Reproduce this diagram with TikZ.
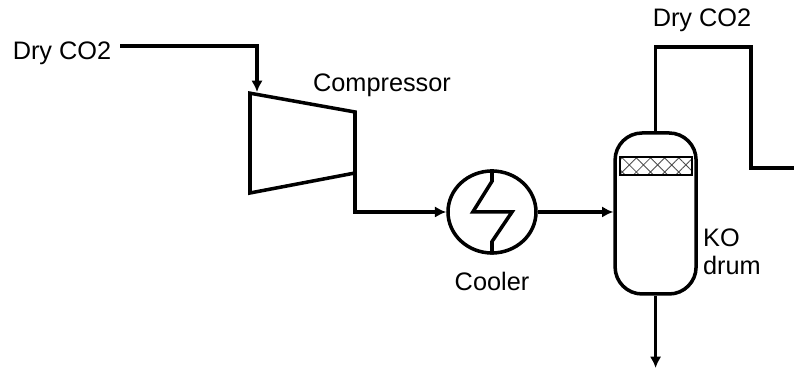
\documentclass[tikz,border=0pt]{standalone}
\usepackage{fontspec}
\setmainfont{Liberation Sans}
\usetikzlibrary{calc,shapes.geometric,arrows.meta,patterns.meta}

\begin{document}
\begin{tikzpicture}[
  unit/.style={draw, line width=2.5pt, inner sep=0pt},
  line/.style={line width=2.5pt},
  arrow/.style={-{Latex[length=8pt,width=8pt]}, line width=2.5pt},
  lab/.style={font=\fontsize{18}{20}\selectfont, align=left}
]
\useasboundingbox (0,0) rectangle (19.85,9.25);

\coordinate (compa) at (6.25,6.92);
\coordinate (compb) at (8.875,6.45);
\coordinate (compc) at (8.875,4.925);
\coordinate (compd) at (6.25,4.425);
\draw[line] (compa) -- (compb) -- (compc) -- (compd) -- cycle;

\node[unit, ellipse, minimum width=2.2cm, minimum height=2.05cm] (cooler) at (12.3,3.95) {};
\node[unit, rounded corners=0.675cm, minimum width=2.025cm, minimum height=4.025cm] (drum) at (16.39,3.9125) {};
\node[draw, line width=1.2pt, inner sep=0pt, minimum width=1.8cm, minimum height=0.45cm,
  pattern={Hatch[angle=45,distance=0.25cm,line width=0.6pt]}, pattern color=black!70] (pack) at (16.4,5.1) {};

\node[lab] (dryin) at (1.55,7.925) {Dry CO2};
\node[lab] (dryout) at (17.55,8.75) {Dry CO2};
\node[lab] (complab) at (9.55,7.12) {Compressor};
\node[lab] (coolab) at (12.3,2.22) {Cooler};
\node[lab] (drumlab) at (18.3,2.95) {KO\\drum};

\coordinate (compin) at (6.425,6.95);
\coordinate (prodout) at (19.85,5.05);
\coordinate (liqout) at (16.39,0.05);

\draw[arrow] ([yshift=0.18cm,xshift=0.1cm]dryin.east) -| (compin);
\draw[arrow] (compc) -- ++(0,-0.975) -- (cooler.west);
\draw[arrow] (cooler.east) -- (drum.west |- cooler.east);
\draw[line] (drum.north) -- (16.39,8.075) -| (18.775,5.05) -- (prodout);
\draw[arrow] (drum.south) -- (liqout);
\draw[line] (cooler.north) -- ++(0,-0.3) -- ($(cooler.center)+(-0.48,0)$) -- ($(cooler.center)+(0.5,0)$) -- ($(cooler.south)+(0,0.33)$) -- (cooler.south);
\end{tikzpicture}
\end{document}
